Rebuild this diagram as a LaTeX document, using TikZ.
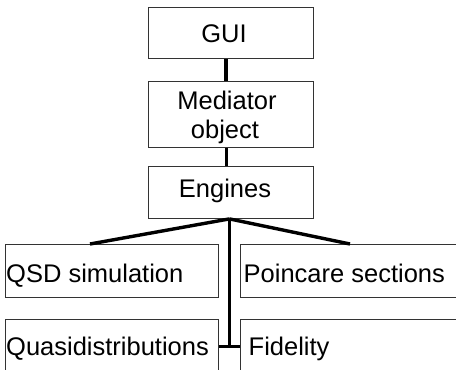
\documentclass[tikz,border=0pt]{standalone}
\usepackage{fontspec}
\setmainfont{Liberation Sans}
\begin{document}
\begin{tikzpicture}[x=1pt,y=-1pt,
  box/.style={draw=black!80, line width=0.9pt, fill=white, anchor=north west,
              inner sep=0pt, minimum height=#1},
  box/.default=52pt,
  lbl/.style={inner sep=0pt, font=\fontsize{25.5}{29}\selectfont},
  conn/.style={draw=black, line width=3.4pt}]
\useasboundingbox[fill=white] (0,0) rectangle (456,370);

% upper chain
\node[box=51pt, minimum width=165pt] (gui) at (148,7) {};
\node[box=66pt, minimum width=165pt] (med) at (148,81) {};
\node[box=52pt, minimum width=165pt] (eng) at (148,166) {};

% engine modules
\node[box=53pt, minimum width=213pt] (qsd) at (5,244) {};
\node[box=53pt, minimum width=240pt] (poi) at (240,244) {};
\node[box=54pt, minimum width=213pt] (qua) at (5,319) {};
\node[box=54pt, minimum width=240pt] (fid) at (240,319) {};

% labels
\node[lbl, anchor=base] (guit) at (224,42.5) {GUI};
\node[lbl, anchor=base] (medt1) at (227,109) {Mediator};
\node[lbl, anchor=base] (medt2) at (225,138) {object};
\node[lbl, anchor=base] (engt) at (225,197.5) {Engines};
\node[lbl, anchor=base west] (qsdt) at (6,282) {QSD simulation};
\node[lbl, anchor=base west] (poit) at (243.5,282) {Poincare sections};
\node[lbl, anchor=base west] (quat) at (6,355) {Quasidistributions};
\node[lbl, anchor=base west] (fidt) at (248.5,355) {Fidelity};

% connectors
\draw[conn] ([xshift=-5pt]gui.south) -- ([xshift=-5pt]med.north);
\draw[conn] ([xshift=-4.5pt]med.south) -- ([xshift=-4.5pt]eng.north);
\draw[conn] ([xshift=-1.5pt]eng.south) -- ([xshift=85pt]qsd.north west);
\draw[conn] ([xshift=-1.5pt]eng.south) -- ([xshift=110pt]poi.north west);
\draw[conn] ([xshift=-1.5pt]eng.south) -- ([xshift=-1.5pt]eng.south |- qua.east);
\draw[conn] (qua.east) -- (fid.west);
\end{tikzpicture}
\end{document}
